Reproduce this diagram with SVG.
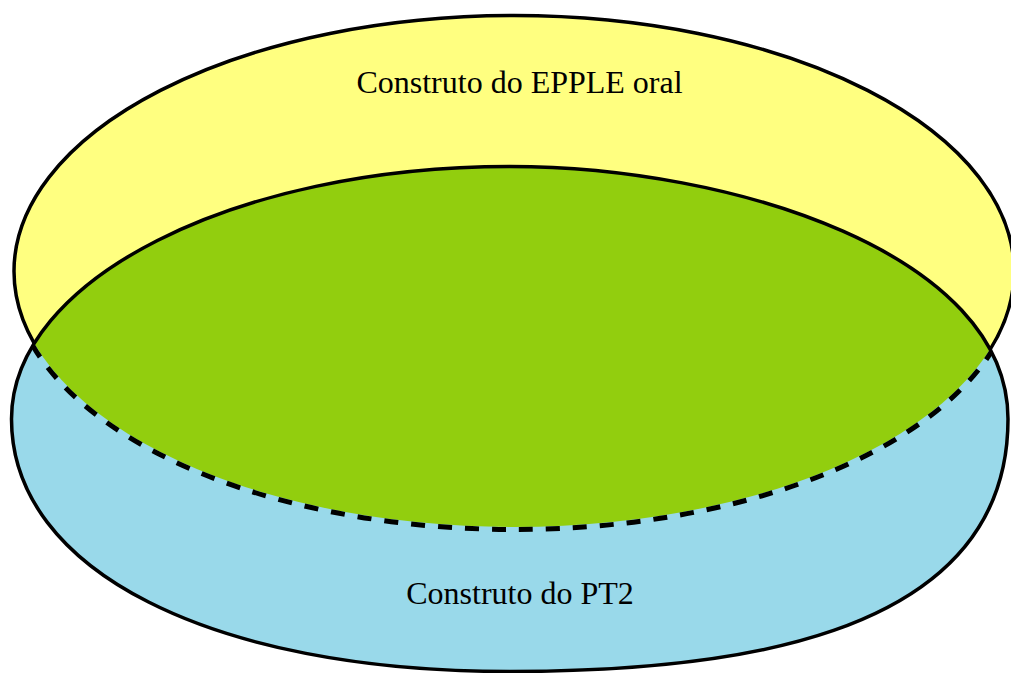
<svg xmlns="http://www.w3.org/2000/svg" xmlns:xlink="http://www.w3.org/1999/xlink" width="1011" height="673" viewBox="0 0 1011 673">
  <style>
    .lbl { font-family: "Liberation Serif", "Times New Roman", serif; font-size: 32px; fill: #000; text-anchor: middle; }
    .outline { fill: none; stroke: #000; stroke-width: 3.5; }
    .dash { fill: none; stroke: #000; stroke-width: 5; stroke-dasharray: 14 13; }
  </style>
  <defs>
    <path id="pt2shape" d="M 509.75 166.5 C 733.96 166.5 1008 254.9 1008 419 C 1008 646.25 709.05 671.5 509.75 671.5 C 210.8 671.5 11.5 570.5 11.5 419 C 11.5 279.55 234.57 166.5 509.75 166.5 Z"/>
    <ellipse id="eppleshape" cx="514" cy="271.25" rx="500" ry="255.75"/>
    <clipPath id="clipYellow"><use xlink:href="#eppleshape"/></clipPath>
    <clipPath id="clipBlue"><use xlink:href="#pt2shape"/></clipPath>
    <clipPath id="clipOutsideBlue">
      <path clip-rule="evenodd" d="M -10 -10 H 1021 V 683 H -10 Z M 509.75 166.5 C 733.96 166.5 1008 254.9 1008 419 C 1008 646.25 709.05 671.5 509.75 671.5 C 210.8 671.5 11.5 570.5 11.5 419 C 11.5 279.55 234.57 166.5 509.75 166.5 Z"/>
    </clipPath>
  </defs>

  <g id="node-epple">
    <use xlink:href="#eppleshape" fill="#FFFF80"/>
    <use xlink:href="#eppleshape" class="outline" clip-path="url(#clipOutsideBlue)"/>
    <text class="lbl" x="519.5" y="93">Construto do EPPLE oral</text>
  </g>

  <g id="node-pt2">
    <use xlink:href="#pt2shape" fill="#99D9EA"/>
    <g id="overlap">
      <use xlink:href="#pt2shape" fill="#92CE0E" clip-path="url(#clipYellow)"/>
      <ellipse class="dash" cx="514" cy="271.25" rx="502.5" ry="258.25" clip-path="url(#clipBlue)"/>
    </g>
    <use xlink:href="#pt2shape" class="outline"/>
    <text class="lbl" x="520" y="604">Construto do PT2</text>
  </g>

  <g id="connectors"/>
</svg>
